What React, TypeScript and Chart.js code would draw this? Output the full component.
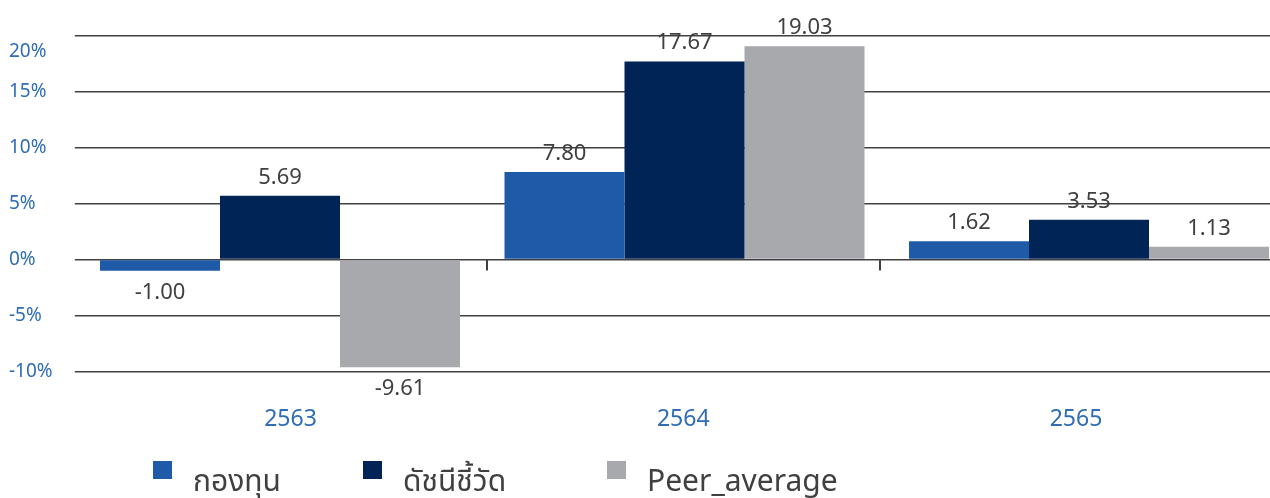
import React, { useEffect, useRef } from 'react';
import { Chart, registerables } from 'chart.js';

Chart.register(...registerables);

const categories = ['2563', '2564', '2565'];
const seriesNames = ['กองทุน', 'ดัชนีชี้วัด', 'Peer_average'];
const fundValues = [-1.0, 7.8, 1.62];
const benchmarkValues = [5.69, 17.67, 3.53];
const peerValues = [-9.61, 19.03, 1.13];
const yMin = -10;
const yMax = 20;
const yStep = 5;

const seriesColors = ['#1f5aa8', '#002456', '#a7a9ac'];
const FONT = '"Noto Sans", "Noto Sans Thai", "Open Sans", sans-serif';
const AXIS_BLUE = '#2f6db5';
const TEXT_GREY = '#404040';

const dataLabelPlugin = {
  id: 'dataLabels',
  afterDatasetsDraw(chart: any) {
    const ctx = chart.ctx;
    ctx.save();
    ctx.font = `22px ${FONT}`;
    ctx.fillStyle = TEXT_GREY;
    ctx.textAlign = 'center';
    ctx.textBaseline = 'alphabetic';
    chart.data.datasets.forEach((ds: any, di: number) => {
      const meta = chart.getDatasetMeta(di);
      meta.data.forEach((bar: any, i: number) => {
        const v = ds.data[i] as number;
        const y = v >= 0 ? bar.y - 12 : bar.y + 28;
        ctx.fillText(v.toFixed(2), bar.x, y);
      });
    });
    ctx.restore();
  },
};

const axisTickPlugin = {
  id: 'axisTicks',
  afterDatasetsDraw(chart: any) {
    const ctx = chart.ctx;
    const xl = chart.scales.xl;
    const ys = chart.scales.y;
    const y0 = ys.getPixelForValue(0);
    ctx.save();
    ctx.strokeStyle = TEXT_GREY;
    ctx.lineWidth = 2;
    for (let i = 0; i < categories.length - 1; i++) {
      const x = Math.round(xl.getPixelForValue(i + 0.5));
      ctx.beginPath();
      ctx.moveTo(x, y0);
      ctx.lineTo(x, y0 + 11);
      ctx.stroke();
    }
    ctx.restore();
  },
};

const legendPlugin = {
  id: 'customLegend',
  afterDraw(chart: any) {
    const ctx = chart.ctx;
    const xs = [153, 363, 607];
    ctx.save();
    chart.data.datasets.forEach((ds: any, i: number) => {
      ctx.fillStyle = ds.backgroundColor;
      ctx.fillRect(xs[i], 461, 19, 18);
      ctx.fillStyle = TEXT_GREY;
      ctx.font = `30px ${FONT}`;
      ctx.textAlign = 'left';
      ctx.textBaseline = 'alphabetic';
      ctx.fillText(ds.label, xs[i] + 40, 491);
    });
    ctx.restore();
  },
};

export default function App() {
  const canvasRef = useRef<HTMLCanvasElement | null>(null);

  useEffect(() => {
    if (!canvasRef.current) return;
    const chart = new Chart(canvasRef.current, {
      type: 'bar',
      data: {
        labels: categories,
        datasets: [fundValues, benchmarkValues, peerValues].map((vals, i) => ({
          label: seriesNames[i],
          data: vals,
          backgroundColor: seriesColors[i],
          borderWidth: 0,
          xAxisID: 'x',
          yAxisID: 'y',
          barPercentage: 1,
          categoryPercentage: 0.89,
        })),
      },
      options: {
        responsive: true,
        maintainAspectRatio: false,
        animation: false,
        layout: { padding: { left: 9, right: 8.75, top: 34, bottom: 0 } },
        plugins: {
          legend: { display: false },
          tooltip: { enabled: false },
        },
        scales: {
          x: {
            type: 'category',
            display: false,
            offset: true,
          },
          xl: {
            type: 'linear',
            position: 'bottom',
            offset: false,
            min: -0.5417,
            max: 2.548,
            afterFit: (s: any) => {
              s.height = 126.5;
            },
            grid: { display: false, offset: false },
            border: { display: false },
            ticks: {
              stepSize: 1,
              includeBounds: false,
              autoSkip: false,
              maxRotation: 0,
              padding: 26,
              color: AXIS_BLUE,
              font: { size: 23, family: FONT },
              callback: (v: any) => categories[v as number] ?? '',
            },
          },
          y: {
            type: 'linear',
            min: yMin,
            max: yMax,
            afterFit: (s: any) => {
              s.width = 68.75;
            },
            grid: {
              color: TEXT_GREY,
              lineWidth: 1.5,
              drawTicks: true,
              tickLength: 3,
            },
            border: { display: false },
            ticks: {
              stepSize: yStep,
              autoSkip: false,
              crossAlign: 'far',
              color: AXIS_BLUE,
              font: { size: 19, family: FONT, lineHeight: 1.7 },
              callback: (v: any) => (v === yMax ? ['', `${v}%`] : `${v}%`),
            },
          },
        },
      } as any,
      plugins: [dataLabelPlugin, axisTickPlugin, legendPlugin],
    });
    return () => chart.destroy();
  }, []);

  return (
    <div
      style={{
        position: 'fixed',
        left: 0,
        top: 0,
        width: 1270,
        height: 498,
        overflow: 'hidden',
        background: '#ffffff',
      }}
    >
      <div style={{ position: 'relative', width: 1300, height: 498 }}>
        <canvas ref={canvasRef} />
      </div>
    </div>
  );
}
